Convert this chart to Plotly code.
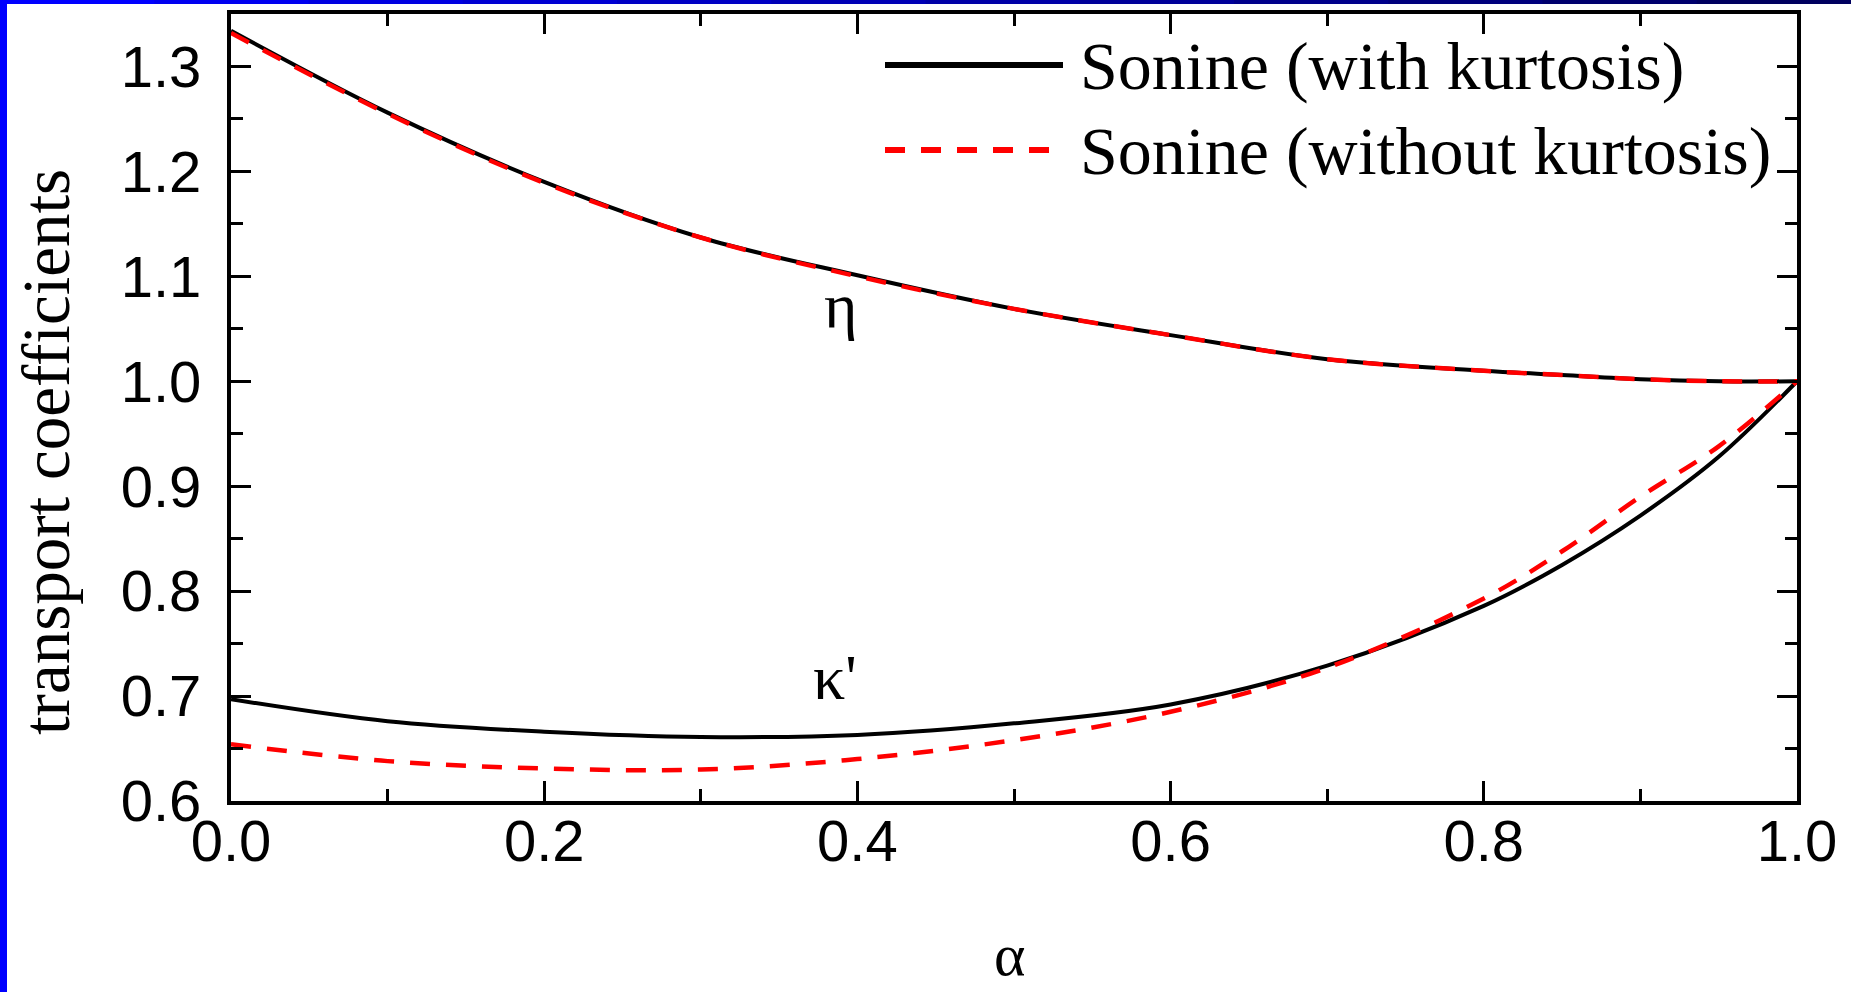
import plotly.graph_objects as go

# ---- data ----
alpha = [0.0, 0.1, 0.2, 0.3, 0.4, 0.5, 0.6, 0.7, 0.8, 0.85, 0.9, 0.95, 1.0]
eta_with = [1.334, 1.256, 1.190, 1.137, 1.101, 1.069, 1.044, 1.021, 1.010, 1.006, 1.002, 1.000, 1.000]
eta_without = [1.332, 1.255, 1.189, 1.137, 1.100, 1.069, 1.044, 1.021, 1.010, 1.006, 1.002, 1.000, 1.000]
kappa_with = [0.697, 0.676, 0.666, 0.661, 0.663, 0.674, 0.692, 0.729, 0.786, 0.825, 0.872, 0.928, 1.000]
kappa_without = [0.654, 0.638, 0.631, 0.630, 0.640, 0.658, 0.685, 0.727, 0.793, 0.838, 0.890, 0.938, 1.000]

legend_labels = ["Sonine (with kurtosis)", "Sonine (without kurtosis)"]
curve_labels = ["η", "κ'"]
x_title = "α"
y_title = "transport coefficients"

W, H = 1851, 992
ML, MR, MT, MB = 231, 54, 14, 191
PW, PH = W - ML - MR, H - MT - MB


def px(x):
    return (x - ML) / PW


def py(y):
    return 1 - (y - MT) / PH


SANS = "Liberation Sans, Arial, sans-serif"
SERIF = "Liberation Serif, Times New Roman, serif"
DASH = "20px,16px"

fig = go.Figure()
fig.add_trace(go.Scatter(x=alpha, y=eta_with, mode="lines", line=dict(color="black", width=4, shape="spline"),
                         name=legend_labels[0], showlegend=False))
fig.add_trace(go.Scatter(x=alpha, y=kappa_with, mode="lines", line=dict(color="black", width=4, shape="spline"),
                         name=legend_labels[0], showlegend=False))
fig.add_trace(go.Scatter(x=alpha, y=eta_without, mode="lines",
                         line=dict(color="#ff0000", width=4.5, dash=DASH, shape="spline"),
                         name=legend_labels[1], showlegend=False))
fig.add_trace(go.Scatter(x=alpha, y=kappa_without, mode="lines",
                         line=dict(color="#ff0000", width=4.5, dash=DASH, shape="spline"),
                         name=legend_labels[1], showlegend=False))

axis_common = dict(
    showline=True, linecolor="black", linewidth=4, mirror="allticks",
    ticks="inside", ticklen=20, tickwidth=3, tickcolor="black",
    showgrid=False, zeroline=False, tickformat=".1f",
    tickfont=dict(family=SANS, size=58, color="black"),
)

fig.update_xaxes(range=[0, 1], tick0=0, dtick=0.2,
                 minor=dict(dtick=0.1, ticks="inside", ticklen=12, tickwidth=3, tickcolor="black"),
                 ticklabelstandoff=-14,
                 **axis_common)
fig.update_yaxes(range=[0.6, 1.35], tick0=0.6, dtick=0.1,
                 minor=dict(dtick=0.05, ticks="inside", ticklen=12, tickwidth=3, tickcolor="black"),
                 ticklabelstandoff=14,
                 **axis_common)

shapes = [
    # legend samples
    dict(type="line", xref="paper", yref="paper", x0=px(885), x1=px(1063), y0=py(65), y1=py(65),
         line=dict(color="black", width=6)),
    dict(type="line", xref="paper", yref="paper", x0=px(885), x1=px(1056), y0=py(150), y1=py(150),
         line=dict(color="#ff0000", width=6, dash=DASH)),
    # blue slide frame (left)
    dict(type="rect", xref="paper", yref="paper", x0=px(0), x1=px(7), y0=py(H), y1=py(0),
         fillcolor="#0000ff", line=dict(width=0), layer="above"),
]
# top strip with a blue -> navy gradient
NSEG = 12
for i in range(NSEG):
    t = i / (NSEG - 1)
    b = int(255 - t * 160)
    shapes.append(dict(type="rect", xref="paper", yref="paper",
                       x0=px(W * i / NSEG), x1=px(W * (i + 1) / NSEG + 1), y0=py(4), y1=py(0),
                       fillcolor=f"rgb(0,0,{b})", line=dict(width=0), layer="above"))

annotations = [
    dict(text=legend_labels[0], xref="paper", yref="paper", x=px(1078), y=py(66), xanchor="left", yanchor="middle",
         showarrow=False, font=dict(family=SERIF, size=68, color="black")),
    dict(text=legend_labels[1], xref="paper", yref="paper", x=px(1078), y=py(151), xanchor="left", yanchor="middle",
         showarrow=False, font=dict(family=SERIF, size=68, color="black")),
    dict(text=curve_labels[0], xref="x", yref="y", x=0.389, y=1.072, showarrow=False,
         font=dict(family=SERIF, size=64, color="black")),
    dict(text=curve_labels[1], xref="x", yref="y", x=0.386, y=0.718, showarrow=False,
         font=dict(family=SERIF, size=64, color="black")),
    dict(text=x_title, xref="paper", yref="paper", x=px(1009), y=py(990), xanchor="center", yanchor="bottom",
         showarrow=False, font=dict(family=SERIF, size=60, color="black")),
    dict(text=y_title, xref="paper", yref="paper", x=px(46), y=py(452), xanchor="center", yanchor="middle",
         textangle=-90, showarrow=False, font=dict(family=SERIF, size=67, color="black")),
]

fig.update_layout(
    width=W, height=H,
    margin=dict(l=ML, r=MR, t=MT, b=MB, autoexpand=False),
    paper_bgcolor="white", plot_bgcolor="white",
    shapes=shapes, annotations=annotations, showlegend=False,
)

fig.write_html("out.html", config={"displayModeBar": False})
